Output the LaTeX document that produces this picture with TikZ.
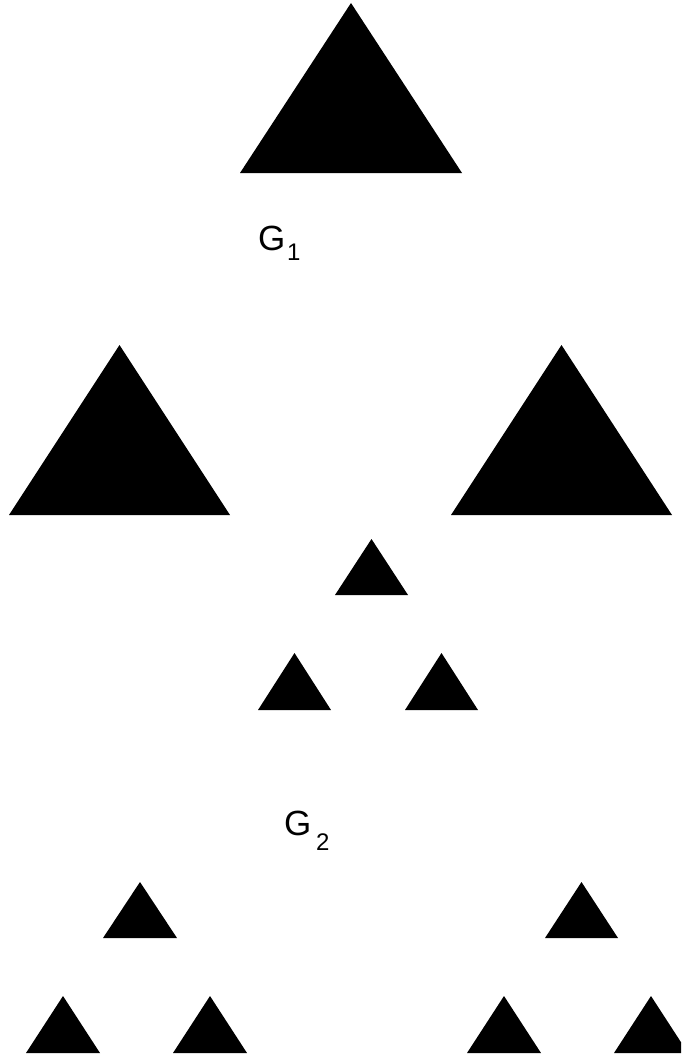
\documentclass[tikz,border=0pt]{standalone}
\usepackage{fontspec}
\setmainfont{Liberation Sans}
\newcommand{\mytri}[4]{\fill[trifill] (#1,#2) -- (#3,#2) -- ({(#1+#3)/2},#4) -- cycle;}
\begin{document}
\begin{tikzpicture}[x=1pt,y=-1pt,
  trifill/.style={black},
  biglabel/.style={inner sep=0pt,anchor=base west,font=\fontsize{35}{40}\selectfont},
  sublabel/.style={inner sep=0pt,anchor=base west,font=\fontsize{24}{28}\selectfont}]
\useasboundingbox (0,0) rectangle (681,1057);
\clip (0,0) rectangle (681,1057);
\mytri{240}{173}{462}{3}
\mytri{9}{515}{230}{345}
\mytri{451}{515}{672}{345}
\mytri{335}{595}{408}{539}
\mytri{258}{710}{331}{653}
\mytri{405}{710}{478}{653}
\mytri{103}{938}{177}{882}
\mytri{26}{1053}{100}{996}
\mytri{173}{1053}{247}{996}
\mytri{545}{938}{618}{882}
\mytri{467}{1053}{541}{996}
\mytri{614}{1053}{688}{996}
\node[biglabel] (g1) at (258,250) {G};
\node[sublabel] (g1s) at (287,260) {1};
\node[biglabel] (g2) at (284,835) {G};
\node[sublabel] (g2s) at (316,850) {2};
\end{tikzpicture}
\end{document}
